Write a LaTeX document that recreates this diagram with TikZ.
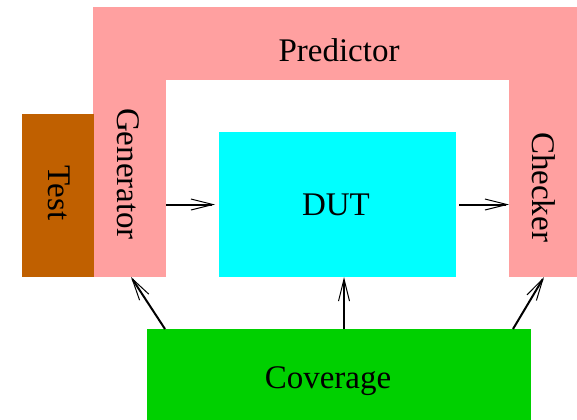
\documentclass[tikz,border=0pt]{standalone}
\usepackage{fontspec}
\setmainfont{Liberation Serif}
\usetikzlibrary{arrows.meta,calc}
\definecolor{predpink}{RGB}{255,160,160}
\definecolor{testbrown}{RGB}{192,96,0}
\definecolor{dutcyan}{RGB}{0,255,255}
\definecolor{covgreen}{RGB}{0,208,0}
\begin{document}
\begin{tikzpicture}[x=0.5pt,y=-0.5pt,
  box/.style={draw=none, inner sep=0pt, outer sep=0pt},
  lbl/.style={inner sep=0pt, font=\fontsize{16.5}{20}\selectfont},
  flow/.style={-{Straight Barb[length=11pt,width=5.5pt,line width=0.5pt]}, line width=1pt}]
\useasboundingbox (0,0) rectangle (577,419);
% predictor frame: top bar plus two side columns
\node[box, fill=predpink, minimum width=242pt, minimum height=36.5pt] (pred) at (335,43.5) {};
\node[box, fill=predpink, minimum width=36.5pt, minimum height=99.5pt] (gen) at (129.5,177.5) {};
\node[box, fill=predpink, minimum width=34pt, minimum height=99.5pt] (chk) at (543,177.5) {};
% test stimulus, device under test, coverage
\node[box, fill=testbrown, minimum width=36pt, minimum height=81.5pt] (test) at (57.5,195.5) {};
\node[box, fill=dutcyan, minimum width=118.5pt, minimum height=72.5pt] (dut) at (337.5,204.5) {};
\node[box, fill=covgreen, minimum width=192pt, minimum height=45.5pt] (cov) at (339,374.5) {};
% labels
\node[lbl] (predlbl) at (339,50) {Predictor};
\node[lbl, rotate=-90] (genlbl) at (128,174) {Generator};
\node[lbl, rotate=-90] (chklbl) at (544,187) {Checker};
\node[lbl, rotate=-90] (testlbl) at (59,193) {Test};
\node[lbl] (dutlbl) at (336,205) {DUT};
\node[lbl] (covlbl) at (328,381) {Coverage};
% data flow
\draw[flow, shorten >=2pt] (gen.east |- dut.center) -- (dut.west);
\draw[flow, shorten <=1.5pt] (dut.east) -- (chk.west |- dut.center);
\draw[flow] ($(cov.north west)+(18,0)$) -- ($(gen.south)+(1.5,0)$);
\draw[flow] ($(cov.north)+(5,0)$) -- ($(dut.south)+(6.5,0)$);
\draw[flow] ($(cov.north east)+(-18,0)$) -- ($(chk.south)+(1,0)$);
\end{tikzpicture}
\end{document}
